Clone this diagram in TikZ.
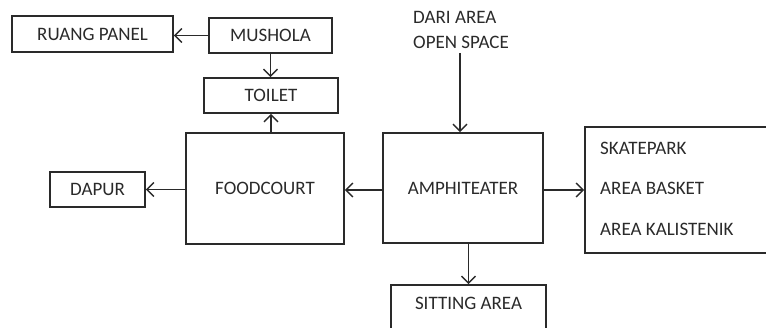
\documentclass[tikz,border=0pt]{standalone}
\usepackage{fontspec}
\setmainfont{Carlito}
\usetikzlibrary{arrows.meta}
\definecolor{ink}{HTML}{2A2A2A}
\begin{document}
\begin{tikzpicture}[x=1pt,y=-1pt,
  box/.style={draw=ink,line width=1.7pt,rectangle,inner sep=0pt,anchor=center,
    text=ink,font=\fontsize{19}{21}\selectfont},
  lbl/.style={inner sep=0pt,text=ink,font=\fontsize{19}{21}\selectfont},
  flow/.style={draw=ink,line width=1.6pt,-{Straight Barb[length=7pt,width=14pt,line width=1.4pt]}}]
\useasboundingbox (0,0) rectangle (766,328);
% rooms
\node[box,minimum width=161pt,minimum height=36pt] (rp) at (92.5,34) {RUANG PANEL};
\node[box,minimum width=123pt,minimum height=35pt] (mu) at (270.5,35.5) {MUSHOLA};
\node[box,minimum width=134pt,minimum height=35pt] (to) at (271,95.5) {TOILET};
\node[box,minimum width=158pt,minimum height=111pt] (fc) at (265,188.5) {FOODCOURT};
\node[box,minimum width=95pt,minimum height=35pt] (da) at (97.5,189.5) {DAPUR};
\node[box,minimum width=160pt,minimum height=110pt] (am) at (463,188) {AMPHITEATER};
\node[box,minimum width=186pt,minimum height=126pt] (rb) at (678,190) {};
\node[box,minimum width=155pt,minimum height=50pt] (sa) at (468.5,310) {};
\node[lbl] (satext) at (468.5,303) {SITTING AREA};
% sports areas inside the right-hand box
\node[lbl,anchor=west] (sk) at (600,148) {SKATEPARK};
\node[lbl,anchor=west] (ab) at (600,188.5) {AREA BASKET};
\node[lbl,anchor=west] (ak) at (600,229) {AREA KALISTENIK};
% incoming flow from the open space
\node[lbl,anchor=west] (dari1) at (413,17) {DARI AREA};
\node[lbl,anchor=west] (dari2) at (413,42) {OPEN SPACE};
\coordinate (src) at (460,53);
% connectors
\draw[flow] (mu.west) -- (mu.west -| rp.east);
\draw[flow] (mu.south) -- (mu.south |- to.north);
\draw[flow] (to.south |- fc.north) -- (to.south);
\draw[flow] (fc.west |- da.east) -- (da.east);
\draw[flow] (am.west |- 0,190) -- (fc.east |- 0,190);
\draw[flow] (am.east |- 0,190) -- (rb.west |- 0,190);
\draw[flow] (sa.north |- am.south) -- (sa.north);
\draw[flow] (src) -- (src |- am.north);
\end{tikzpicture}
\end{document}
